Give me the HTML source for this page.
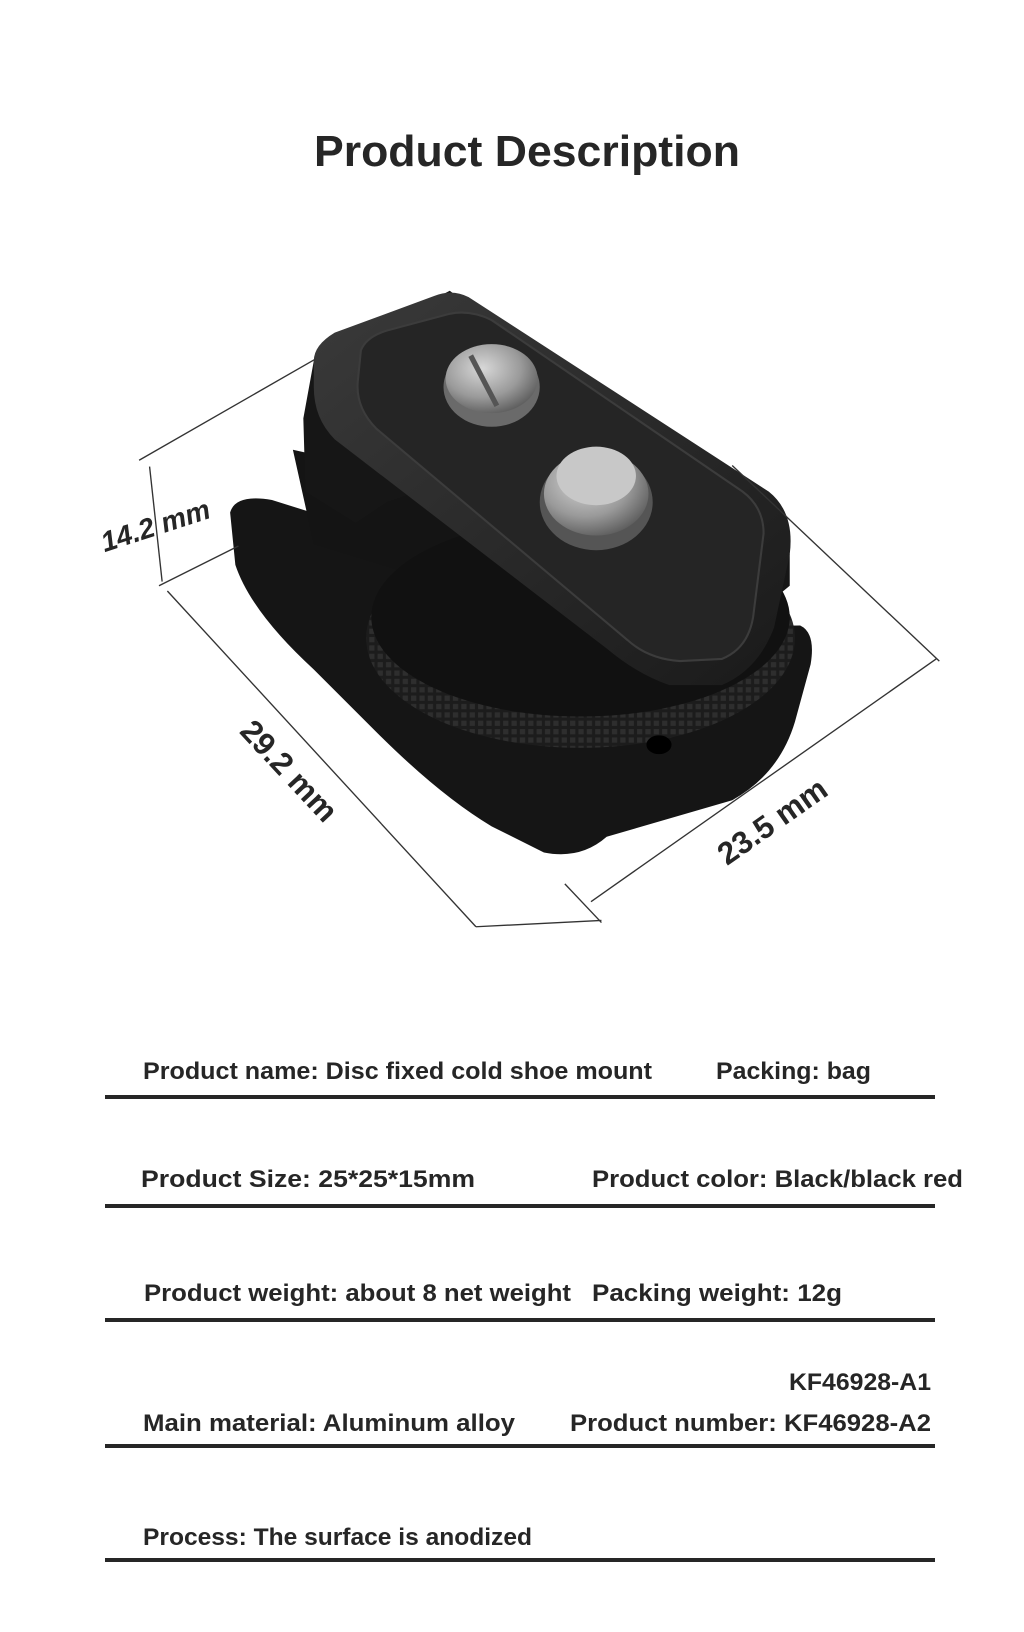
<!DOCTYPE html>
<html><head><meta charset="utf-8"><style>
html,body{margin:0;padding:0;background:#fff;}
svg{display:block}
text{font-family:"Liberation Sans",sans-serif;font-weight:bold;fill:#262626}
</style></head><body>
<svg width="1024" height="1632" viewBox="0 0 1024 1632" xmlns="http://www.w3.org/2000/svg">
<defs>
<radialGradient id="sc" cx="0.4" cy="0.35" r="0.7"><stop offset="0" stop-color="#d8d8d8"/><stop offset="0.6" stop-color="#9a9a9a"/><stop offset="1" stop-color="#5a5a5a"/></radialGradient>
<linearGradient id="pl" x1="0" y1="0" x2="1" y2="1"><stop offset="0" stop-color="#3a3a3a"/><stop offset="1" stop-color="#1a1a1a"/></linearGradient>
<pattern id="kn" width="8" height="8" patternUnits="userSpaceOnUse"><rect width="8" height="8" fill="#1c1c1c"/><rect x="1" y="1" width="5" height="5" fill="#2e2e2e"/></pattern>
</defs>
<text x="527" y="166" text-anchor="middle" font-size="44" textLength="426" lengthAdjust="spacingAndGlyphs">Product Description</text>
<g transform="scale(1.046)">
<!-- base -->
<path d="M220,490 Q225,472 260,478 L330,500 L560,600 L765,598 Q780,605 775,635 L760,690 Q745,740 700,765 L580,800 Q555,822 520,815 L470,790 Q420,760 360,700 L300,640 Q240,585 225,540 Z" fill="#151515"/>
<path d="M280,430 L460,470 L430,560 L300,520 Z" fill="#141414"/>
<!-- knurled wheel -->
<ellipse cx="555" cy="610" rx="205" ry="105" fill="url(#kn)"/>
<ellipse cx="555" cy="590" rx="200" ry="95" fill="#111"/>
<!-- body side -->
<path d="M300,345 L290,400 L292,470 L340,500 L370,480 L400,470 L640,655 L755,560 L755,530 L430,278 Z" fill="#161616"/>
<!-- top plate -->
<path d="M300,345 Q300,330 320,318 L415,283 Q432,276 448,284 L735,470 Q760,490 755,530 L740,600 Q725,640 690,655 L640,655 Q610,645 580,620 L320,420 Q300,400 300,370 Z" fill="url(#pl)"/>
<path d="M345,335 Q350,322 370,316 L430,300 Q450,296 470,306 L710,470 Q730,485 730,510 L720,590 Q715,620 690,630 L650,632 Q620,630 600,612 L360,410 Q340,390 342,365 Z" fill="#252525" stroke="#3c3c3c" stroke-width="2"/>
<!-- screws -->
<ellipse cx="470" cy="370" rx="46" ry="38" fill="#6a6a6a"/>
<ellipse cx="470" cy="362" rx="44" ry="33" fill="url(#sc)"/>
<path d="M450,340 L475,388" stroke="#555" stroke-width="5"/>
<ellipse cx="570" cy="480" rx="54" ry="46" fill="#555"/>
<ellipse cx="570" cy="472" rx="50" ry="40" fill="url(#sc)"/>
<ellipse cx="570" cy="455" rx="38" ry="28" fill="#c8c8c8"/>
<ellipse cx="630" cy="712" rx="12" ry="9" fill="#000"/>
<!-- dimension lines -->
<g stroke="#333" stroke-width="1.3" fill="none">
<line x1="133" y1="440" x2="302" y2="343"/>
<line x1="152" y1="560" x2="228" y2="522"/>
<line x1="143" y1="446" x2="155" y2="556"/>
<line x1="160" y1="565" x2="455" y2="886"/>
<line x1="455" y1="886" x2="575" y2="880"/>
<line x1="540" y1="845" x2="575" y2="882"/>
<line x1="565" y1="862" x2="895" y2="630"/>
<line x1="700" y1="445" x2="898" y2="632"/>
</g>
<text transform="translate(100,528) rotate(-18)" font-size="27" font-style="italic">14.2 mm</text>
<text transform="translate(228,700) rotate(47)" font-size="30">29.2 mm</text>
<text transform="translate(695,828) rotate(-35)" font-size="30">23.5 mm</text>
</g>
<g font-size="24">
<text x="143" y="1079" textLength="509" lengthAdjust="spacingAndGlyphs">Product name: Disc fixed cold shoe mount</text>
<text x="716" y="1079" textLength="155" lengthAdjust="spacingAndGlyphs">Packing: bag</text>
<text x="141" y="1187" textLength="334" lengthAdjust="spacingAndGlyphs">Product Size: 25*25*15mm</text>
<text x="592" y="1187" textLength="371" lengthAdjust="spacingAndGlyphs">Product color: Black/black red</text>
<text x="144" y="1301" textLength="427" lengthAdjust="spacingAndGlyphs">Product weight: about 8 net weight</text>
<text x="592" y="1301" textLength="250" lengthAdjust="spacingAndGlyphs">Packing weight: 12g</text>
<text x="789" y="1390" textLength="142" lengthAdjust="spacingAndGlyphs">KF46928-A1</text>
<text x="143" y="1431" textLength="372" lengthAdjust="spacingAndGlyphs">Main material: Aluminum alloy</text>
<text x="570" y="1431" textLength="361" lengthAdjust="spacingAndGlyphs">Product number:  KF46928-A2</text>
<text x="143" y="1545" textLength="389" lengthAdjust="spacingAndGlyphs">Process: The surface is anodized</text>
</g>
<g fill="#262626">
<rect x="105" y="1095" width="830" height="4"/>
<rect x="105" y="1204" width="830" height="4"/>
<rect x="105" y="1318" width="830" height="4"/>
<rect x="105" y="1444" width="830" height="4"/>
<rect x="105" y="1558" width="830" height="4"/>
</g>
</svg>
</body></html>
